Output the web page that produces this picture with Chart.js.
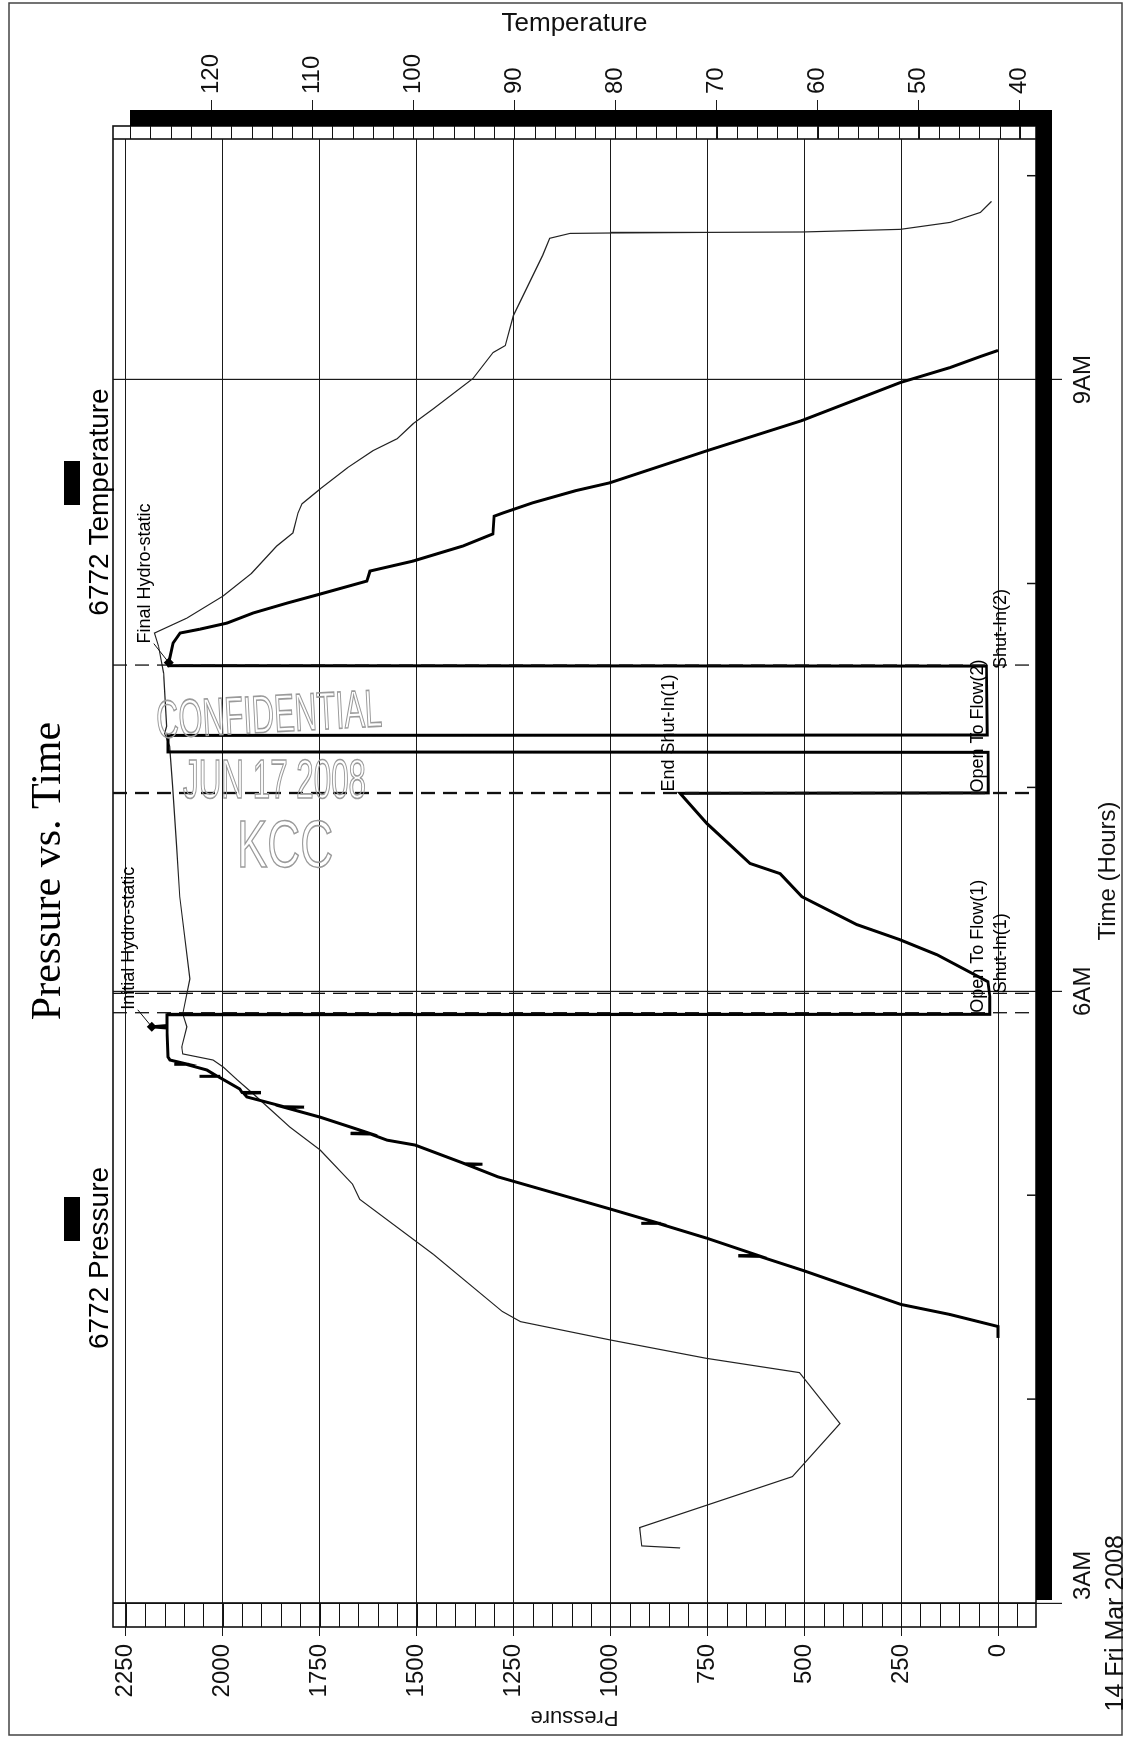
<!DOCTYPE html>
<html>
<head>
<meta charset="utf-8">
<script src="https://cdn.jsdelivr.net/npm/chart.js@4.4.0/dist/chart.umd.min.js"></script>
<style>
    html, body { margin: 0; padding: 0; background: #fff; }
    body { width: 1128px; height: 1748px; position: relative; overflow: hidden; }
    /* the chart is drawn landscape and turned a quarter turn, like the scanned page */
    #sheet { position: absolute; left: 0; top: 0; width: 1748px; height: 1128px;
             transform-origin: 0 0; transform: translate(0, 1748px) rotate(-90deg); }
    .stamp { position: absolute; font-family: "Liberation Sans", Arial, sans-serif; line-height: 1;
             color: rgba(255,255,255,0); -webkit-text-stroke: 1.6px #9a9a9a; white-space: nowrap;
             transform-origin: 0 0; }
</style>
</head>
<body>
<div id="sheet"><canvas id="dstChart" width="1748" height="1128"></canvas></div>
<div class="stamp" style="left:155px;top:693px;font-size:53px;transform:rotate(-3deg) scaleX(0.58)">CONFIDENTIAL</div>
<div class="stamp" style="left:183px;top:751px;font-size:56px;transform:scaleX(0.56)">JUN 17 2008</div>
<div class="stamp" style="left:237px;top:811px;font-size:66px;transform:scaleX(0.69)">KCC</div>
<script>
// Times are decimal hours of 14 Mar 2008
const pressureHours = [4.30, 4.356, 4.415, 4.464, 4.631, 4.70, 4.702, 4.704, 4.789, 4.86, 4.862, 4.864, 4.931, 5.09,
    5.15, 5.152, 5.154, 5.246, 5.27, 5.30, 5.302, 5.304, 5.319, 5.383, 5.43, 5.432, 5.434, 5.482, 5.50, 5.502, 5.504,
    5.521, 5.58, 5.582, 5.584, 5.614, 5.64, 5.642, 5.644, 5.663, 5.678, 5.82, 5.826, 5.832, 5.885, 5.887, 5.973,
    6.047, 6.179, 6.253, 6.327, 6.464, 6.577, 6.627, 6.823, 6.971, 6.973, 7.172, 7.174, 7.255, 7.257, 7.595, 7.597,
    7.612, 7.708, 7.757, 7.776, 7.806, 7.855, 7.904, 7.948, 8.012, 8.061, 8.11, 8.184, 8.243, 8.33, 8.346, 8.396,
    8.455, 8.494, 8.651, 8.799, 8.985, 9.059, 9.113, 9.143];
const pressureValues = [0, 0, 124, 250, 503, 615, 670, 618, 751, 874, 920, 878, 998, 1290,
    1370, 1330, 1375, 1504, 1576, 1619, 1670, 1622, 1646, 1749, 1839, 1790, 1842, 1938, 1946, 1905, 1950,
    1956, 2010, 2060, 2014, 2041, 2091, 2125, 2094, 2136, 2141, 2144, 2183, 2144, 2144, 21, 21,
    26, 157, 253, 364, 506, 562, 640, 751, 820, 25, 26, 2141, 2141, 28, 30, 2139,
    2139, 2128, 2110, 2059, 1989, 1922, 1834, 1749, 1628, 1620, 1509, 1380, 1303, 1300, 1277, 1200,
    1090, 1001, 751, 506, 253, 124, 46, 0];

const temperatureHours = [3.27, 3.28, 3.37, 3.62, 3.88, 4.13, 4.20, 4.29, 4.38, 4.43, 4.71, 4.98, 5.054, 5.221,
    5.334, 5.496, 5.565, 5.629, 5.663, 5.693, 5.727, 5.826, 5.889, 6.061, 6.464, 6.71, 7.005, 7.202, 7.265, 7.30,
    7.56, 7.693, 7.757, 7.83, 7.939, 8.05, 8.184, 8.248, 8.346, 8.391, 8.464, 8.568, 8.651, 8.71, 8.784, 8.857,
    9.005, 9.133, 9.167, 9.314, 9.609, 9.693, 9.717, 9.719, 9.722, 9.724, 9.737, 9.771, 9.82, 9.874];
const temperatureValues = [73.6, 77.4, 77.6, 62.5, 57.8, 61.8, 71.0, 80.5, 89.4, 91.2, 98.0, 105.3, 106.0, 109.2,
    112.2, 115.8, 117.4, 118.8, 119.8, 122.8, 122.9, 122.4, 122.8, 122.1, 123.1, 123.4, 123.8, 124.1, 124.6, 124.4,
    124.7, 125.2, 125.6, 122.4, 118.8, 116.0, 113.5, 111.9, 111.4, 111.0, 109.2, 106.5, 104.0, 101.6, 100.0, 98.0,
    94.1, 92.1, 90.9, 90.1, 87.2, 86.5, 84.5, 80.5, 70.9, 61.5, 51.8, 46.9, 43.9, 42.8];

const pressureTicks = [0, 250, 500, 750, 1000, 1250, 1500, 1750, 2000, 2250];
const temperatureTicks = [40, 50, 60, 70, 80, 90, 100, 110, 120];
const timeTickHours = [3, 6, 9];
const timeTickLabels = ['3AM', '6AM', '9AM'];
const dateLabel = '14 Fri Mar 2008';

const eventNames = ['Initial Hydro-static', 'Open To Flow(1)', 'Shut-In(1)', 'End Shut-In(1)',
    'Open To Flow(2)', 'Shut-In(2)', 'Final Hydro-static'];
const eventHours = [5.826, 5.895, 5.99, 6.97, 6.975, 7.60, 7.612];
const eventPressures = [2183, 21, 21, 820, 21, 21, 2139];

const SANS = '"Liberation Sans", Arial, sans-serif';

// how each event note sits next to its point
const eventLayout = [
    { dx: 17, dy: -23, base: 'middle', leader: true, dashed: false },
    { dx: 0, dy: -3, base: 'bottom', dashed: true },
    { dx: 0, dy: 2, base: 'top', dashed: true },
    { dx: 2, dy: -2, base: 'bottom', dashed: true },
    { dx: 0, dy: -3, base: 'bottom', dashed: true },
    { dx: -4, dy: 2, base: 'top', dashed: true },
    { dx: 19, dy: -24, base: 'middle', leader: true, dashed: false }
];

function line(ctx, x1, y1, x2, y2) {
    ctx.beginPath();
    ctx.moveTo(x1, y1);
    ctx.lineTo(x2, y2);
    ctx.stroke();
}

const sheetPlugin = {
    id: 'sheet',
    beforeDraw(chart) {
        const ctx = chart.ctx;
        ctx.save();
        ctx.fillStyle = '#fff';
        ctx.fillRect(0, 0, chart.width, chart.height);
        ctx.strokeStyle = '#444';
        ctx.lineWidth = 1.5;
        ctx.strokeRect(13, 9, 1732, 1113);
        ctx.restore();
    },
    afterDraw(chart) {
        const ctx = chart.ctx;
        const a = chart.chartArea;
        const xs = chart.scales.x, ys = chart.scales.y, ts = chart.scales.y1;
        const bandL = a.left - 24, bandR = a.right + 13;
        ctx.save();

        // ruler bands with minor ticks
        ctx.strokeStyle = '#111';
        ctx.lineWidth = 1;
        for (let p = -50; p <= 2250; p += 50) {
            const y = Math.round(ys.getPixelForValue(p)) + 0.5;
            line(ctx, bandL, y, a.left, y);
        }
        for (let t = 40; t <= 128; t += 2) {
            const y = Math.round(ts.getPixelForValue(t)) + 0.5;
            line(ctx, a.right, y, bandR, y);
        }
        // frame
        ctx.lineWidth = 1.6;
        ctx.strokeRect(bandL, a.top, bandR - bandL, a.bottom - a.top);
        line(ctx, a.left, a.top, a.left, a.bottom);
        line(ctx, a.right, a.top, a.right, a.bottom);
        // drop shadow
        ctx.fillStyle = '#000';
        ctx.fillRect(bandR, a.top + 17, 16, a.bottom + 16 - (a.top + 17));
        ctx.fillRect(a.left + 3, a.bottom, bandR + 16 - (a.left + 3), 16);

        // hour ticks without labels
        ctx.lineWidth = 1.5;
        for (let h = Math.ceil(xs.min); h <= xs.max; h++) {
            if (timeTickHours.includes(h)) continue;
            const x = xs.getPixelForValue(h);
            line(ctx, x, a.bottom, x, a.bottom - 9);
        }

        // event lines, notes and markers
        ctx.font = '18px ' + SANS;
        ctx.fillStyle = '#000';
        eventNames.forEach((name, i) => {
            const lay = eventLayout[i];
            const x = xs.getPixelForValue(eventHours[i]);
            const y = ys.getPixelForValue(eventPressures[i]);
            if (lay.dashed) {
                ctx.save();
                ctx.setLineDash([14, 8]);
                ctx.lineWidth = 1.3;
                line(ctx, x, a.top, x, a.bottom);
                ctx.restore();
            }
            ctx.textAlign = 'left';
            ctx.textBaseline = lay.base;
            ctx.fillText(name, x + lay.dx, y + lay.dy);
            if (lay.leader) {
                ctx.lineWidth = 1;
                line(ctx, x + lay.dx, y + lay.dy + 9, x, y);
                ctx.beginPath();
                ctx.moveTo(x, y - 5); ctx.lineTo(x + 5, y); ctx.lineTo(x, y + 5); ctx.lineTo(x - 5, y);
                ctx.closePath();
                ctx.fill();
            }
        });

        // time labels
        ctx.fillStyle = '#111';
        ctx.textBaseline = 'middle';
        timeTickHours.forEach((h, i) => {
            const x = xs.getPixelForValue(h);
            ctx.font = '24px ' + SANS;
            if (i === 0) {
                ctx.textAlign = 'left';
                ctx.fillText(timeTickLabels[i], x + 3, a.bottom + 47);
                ctx.font = '25px ' + SANS;
                ctx.textAlign = 'right';
                ctx.fillText(dateLabel, x + 68, a.bottom + 80);
            } else {
                ctx.textAlign = 'center';
                ctx.fillText(timeTickLabels[i], x, a.bottom + 47);
            }
        });

        // title
        ctx.font = '42px "Liberation Serif", "Times New Roman", serif';
        ctx.textAlign = 'center';
        ctx.fillStyle = '#000';
        ctx.fillText('Pressure vs. Time', (a.left + a.right) / 2, 49);

        // legend: bar above each label
        ctx.font = '28px ' + SANS;
        chart.data.datasets.forEach((ds, i) => {
            const cx = i === 0 ? 490 : 1246;
            const barCenter = i === 0 ? 529 : 1265;
            ctx.fillText(ds.label, cx, 100);
            ctx.fillRect(barCenter - 22, 64, 44, 16);
        });
        ctx.restore();
    }
};

const axisFont = { family: SANS, size: 24 };

new Chart(document.getElementById('dstChart'), {
    type: 'scatter',
    data: {
        datasets: [{
            label: '6772 Pressure',
            data: pressureHours.map((h, i) => ({ x: h, y: pressureValues[i] })),
            yAxisID: 'y',
            showLine: true,
            borderColor: '#000',
            borderWidth: 3,
            pointRadius: 0,
            tension: 0
        }, {
            label: '6772 Temperature',
            data: temperatureHours.map((h, i) => ({ x: h, y: temperatureValues[i] })),
            yAxisID: 'y1',
            showLine: true,
            borderColor: '#222',
            borderWidth: 1.2,
            pointRadius: 0,
            tension: 0
        }]
    },
    options: {
        responsive: false,
        animation: false,
        layout: { padding: { top: 113, left: 0, right: 0, bottom: 0 } },
        plugins: {
            legend: { display: false },
            title: { display: false },
            tooltip: { enabled: false }
        },
        scales: {
            x: {
                type: 'linear',
                position: 'bottom',
                min: 3,
                max: 10.18,
                afterBuildTicks: function(scale) {
                    scale.ticks = timeTickHours.map(v => ({ value: v }));
                },
                afterFit: function(scale) { scale.height = 92; },
                ticks: { display: false },
                grid: { color: '#1a1a1a', lineWidth: 1.2, tickLength: 26 },
                border: { display: false },
                title: { display: true, text: 'Time (Hours)', font: axisFont, color: '#111',
                         padding: { top: 0, bottom: 5 } }
            },
            y: {
                position: 'left',
                min: -98,
                max: 2283,
                afterBuildTicks: function(scale) {
                    scale.ticks = pressureTicks.map(v => ({ value: v }));
                },
                afterFit: function(scale) { scale.width = 145; },
                ticks: { font: axisFont, color: '#111', padding: 8,
                         callback: function(value) { return String(value); } },
                grid: { color: '#1a1a1a', lineWidth: 1, tickLength: 33 },
                border: { display: false },
                title: { display: true, text: 'Pressure', font: { family: SANS, size: 22 }, color: '#111',
                         padding: { top: 18, bottom: 0 } }
            },
            y1: {
                position: 'right',
                min: 38.4,
                max: 129.7,
                afterBuildTicks: function(scale) {
                    scale.ticks = temperatureTicks.map(v => ({ value: v }));
                },
                afterFit: function(scale) { scale.width = 139; },
                ticks: { font: axisFont, color: '#111', padding: 6,
                         callback: function(value) { return String(value); } },
                grid: { drawOnChartArea: false, color: '#1a1a1a', lineWidth: 1, tickLength: 39 },
                border: { display: false },
                title: { display: true, text: 'Temperature', font: { family: SANS, size: 26 }, color: '#111',
                         padding: { top: 8, bottom: 0 } }
            }
        }
    },
    plugins: [sheetPlugin]
});
</script>
</body>
</html>
